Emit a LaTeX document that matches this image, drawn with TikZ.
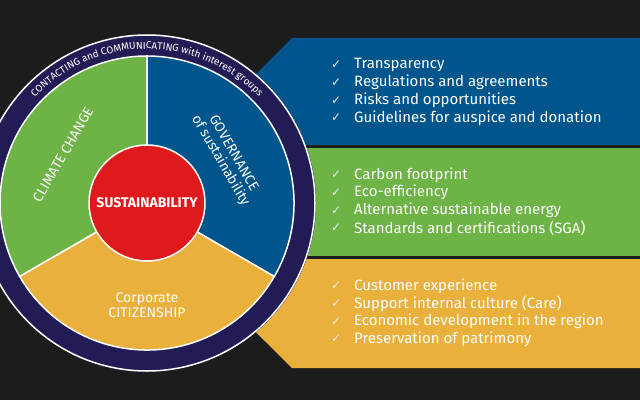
\documentclass[tikz,border=0pt]{standalone}
\usepackage{fontspec}
\setmainfont{Fira Sans}
\newfontfamily\symfont{DejaVu Sans}
\usetikzlibrary{calc,decorations.text}
\definecolor{bgdark}{HTML}{1C1C1C}
\definecolor{govblue}{HTML}{00558C}
\definecolor{climgreen}{HTML}{6DB346}
\definecolor{citiyellow}{HTML}{EAB03C}
\definecolor{corered}{HTML}{DF1A1C}
\definecolor{ringnavy}{HTML}{221C54}
\begin{document}
\begin{tikzpicture}[x=1pt,y=1pt,
  sector/.style={draw=white,line width=1.5pt},
  wheel label/.style={text=white,font=\fontsize{14}{15}\selectfont,align=center,inner sep=0pt},
  item/.style={anchor=west,text=white,font=\fontsize{15}{16}\selectfont,inner sep=0pt},
  tick/.style={anchor=west,text=white!85!gray,font=\symfont\fontsize{12}{12}\selectfont,inner sep=0pt}]
  % FRAME
  \clip (0,0) rectangle (640,400);
  \fill[bgdark] (0,0) rectangle (640,400);
  % BANDS
  \fill[govblue] (292,362) -- (640,362) -- (640,255) -- (185,255) -- cycle;
  \fill[climgreen] (250,252) rectangle (640,144);
  \fill[citiyellow] (182,141) -- (640,141) -- (640,32) -- (292,32) -- cycle;
  % WHEEL
  \coordinate (C) at (147,197);
  \fill[ringnavy] (C) circle (169pt);
  \draw[white,line width=1.5pt] (C) circle (168pt);
  \filldraw[sector,fill=climgreen] (C) -- ++(90:147pt) arc (90:210:147pt) -- cycle;
  \filldraw[sector,fill=govblue] (C) -- ++(-30:147pt) arc (-30:90:147pt) -- cycle;
  \filldraw[sector,fill=citiyellow] (C) -- ++(210:147pt) arc (210:330:147pt) -- cycle;
  \path[decorate,decoration={text along path,text align=center,
    text={|\color{white}\fontsize{10}{10}\selectfont|CONTACTING and COMMUNICATING with interest groups}}]
    ($(C)+(170:154pt)$) arc (170:10:154pt);
  \node[circle,minimum size=116pt,fill=corered,draw=white,line width=1.5pt,text=white,
    font=\bfseries\fontsize{14}{15}\selectfont,inner sep=0pt] (core) at (C) {SUSTAINABILITY};
  % SECTOR LABELS
  \node[wheel label,rotate=60] (climate) at ($(C)+(150:97pt)$) {CLIMATE CHANGE};
  \node[wheel label,rotate=-60] (governance) at ($(C)+(30:92pt)$) {GOVERNANCE\\of sustainability};
  \node[wheel label] (citizenship) at (147,95) {Corporate\\CITIZENSHIP};
  % LISTS
  \foreach \txt [count=\i] in {Transparency,Regulations and agreements,
      Risks and opportunities,Guidelines for auspice and donation} {
    \node[tick] (govtick\i) at (331,{335-17.7*(\i-1)}) {✓};
    \node[item] (govitem\i) at (354,{335-17.7*(\i-1)}) {\txt};
  }
  \foreach \txt [count=\i] in {Carbon footprint,Eco-efficiency,
      Alternative sustainable energy,Standards and certifications (SGA)} {
    \node[tick] (climtick\i) at (331,{225-17.7*(\i-1)}) {✓};
    \node[item] (climitem\i) at (354,{225-17.7*(\i-1)}) {\txt};
  }
  \foreach \txt [count=\i] in {Customer experience,Support internal culture (Care),
      Economic development in the region,Preservation of patrimony} {
    \node[tick] (cititick\i) at (331,{114-17.7*(\i-1)}) {✓};
    \node[item] (citiitem\i) at (354,{114-17.7*(\i-1)}) {\txt};
  }
\end{tikzpicture}
\end{document}
